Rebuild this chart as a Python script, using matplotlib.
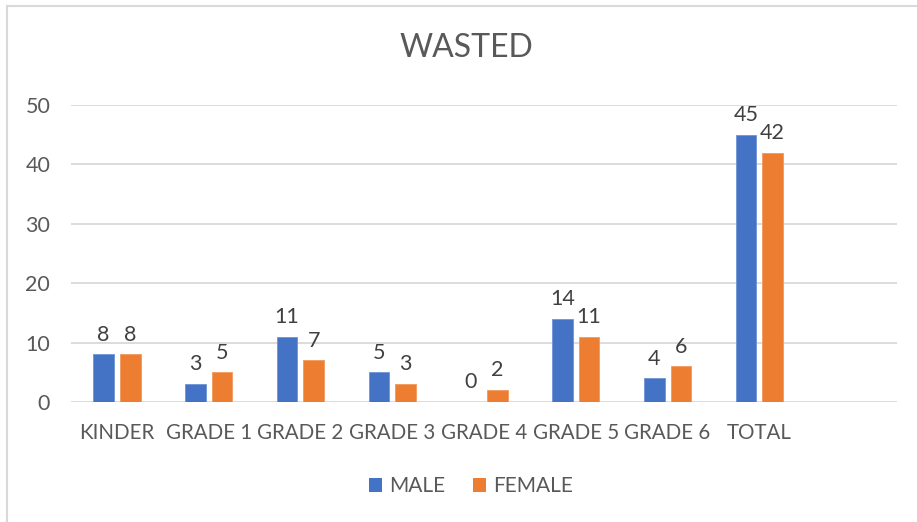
import matplotlib
matplotlib.use("Agg")
import matplotlib.pyplot as plt
from matplotlib.patches import Patch
from matplotlib.lines import Line2D
import numpy as np

categories = ["KINDER", "GRADE 1", "GRADE 2", "GRADE 3", "GRADE 4", "GRADE 5", "GRADE 6", "TOTAL", ""]
male = [8, 3, 11, 5, 0, 14, 4, 45, None]
female = [8, 5, 7, 3, 2, 11, 6, 42, None]
title = "WASTED"
yticks = [0, 10, 20, 30, 40, 50]

BLUE = "#4472C4"
ORANGE = "#ED7D31"
TXT = "#595959"
GRID = "#D9D9D9"

plt.rcParams['font.family'] = ['Lato', 'DejaVu Sans']

fig = plt.figure(figsize=(9.17, 5.22), dpi=100)
ax = fig.add_axes([71/917, 1-402/522, (897-71)/917, (402-105)/522])

x = np.arange(len(categories))
w = 0.225
off = 0.145
for i, (m, f) in enumerate(zip(male, female)):
    if m is not None:
        ax.bar(x[i]-off, m, w, color=BLUE, edgecolor="#6E93D6", linewidth=0.6, zorder=3)
        ax.annotate(str(m), (x[i]-off, m), xytext=(0, 7), textcoords="offset points",
                    ha="center", va="bottom", fontsize=15.5, color="#404040")
    if f is not None:
        ax.bar(x[i]+off, f, w, color=ORANGE, edgecolor="#F19A5E", linewidth=0.6, zorder=3)
        ax.annotate(str(f), (x[i]+off, f), xytext=(0, 7), textcoords="offset points",
                    ha="center", va="bottom", fontsize=15.5, color="#404040")

ax.set_xlim(-0.5, len(categories)-0.5)
ax.set_ylim(0, 50)
ax.set_yticks(yticks)
ax.set_xticks(x)
ax.set_xticklabels(categories)
ax.tick_params(axis='both', length=0, labelsize=15.5, labelcolor=TXT)
ax.tick_params(axis='x', labelsize=14.8, pad=15)
ax.tick_params(axis='y', pad=15)
ax.grid(axis='y', color=GRID, linewidth=1.3, zorder=0)
for s in ax.spines.values():
    s.set_visible(False)

fig.text(466/917, 1-48/522, title, ha="center", va="center", fontsize=23, color=TXT)

handles = [Patch(facecolor=BLUE, label="MALE"), Patch(facecolor=ORANGE, label="FEMALE")]
leg = fig.legend(handles=handles, loc="center", bbox_to_anchor=(471/917, 1-486/522), ncol=2,
                 frameon=False, fontsize=15, handlelength=0.65, handleheight=0.65,
                 handletextpad=0.35, columnspacing=1.3)
for t in leg.get_texts():
    t.set_color(TXT)

# chart frame
fig.add_artist(Line2D([7/917, 7/917], [0, 1-6/522], transform=fig.transFigure, color=GRID, linewidth=1.5))
fig.add_artist(Line2D([7/917, 1], [1-6/522, 1-6/522], transform=fig.transFigure, color=GRID, linewidth=1.5))

fig.savefig("out.png", dpi=100)
